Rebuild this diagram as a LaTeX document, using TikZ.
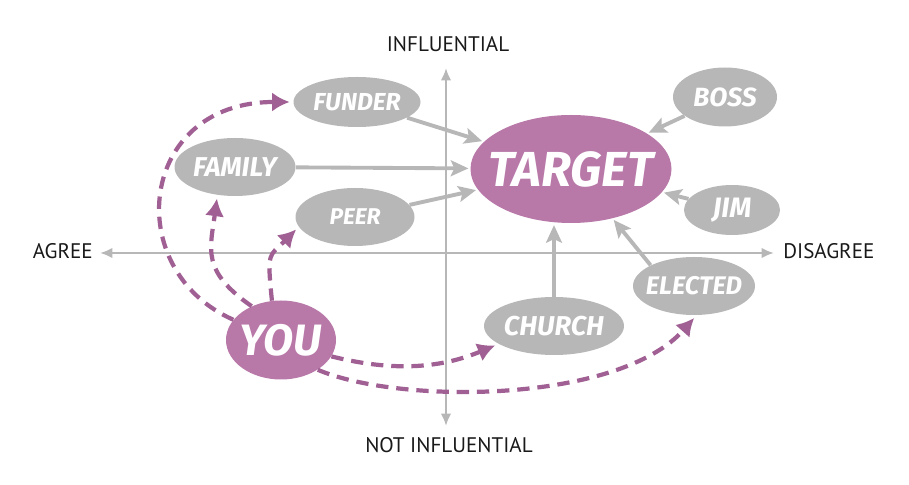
\documentclass[tikz,border=0pt]{standalone}
\usepackage{fontspec}
\setmainfont{PT Sans}
\newfontfamily\handfont{Fira Sans}
\usetikzlibrary{shapes.geometric,arrows.meta}
\definecolor{plum}{RGB}{184,120,168}
\definecolor{plumline}{RGB}{160,96,148}
\definecolor{ashgray}{RGB}{183,183,183}
\newcommand{\blobtext}[2]{\makebox[0pt]{\fontsize{#1}{#1}\selectfont\handfont\bfseries\itshape #2}}

\begin{document}
\begin{tikzpicture}[
	blob/.style={ellipse, fill=ashgray, text=white, inner sep=0pt},
	hot/.style={ellipse, fill=plum, text=white, inner sep=0pt},
	axislabel/.style={inner sep=0pt, font=\fontsize{12}{14}\selectfont, text=black!90},
	pull/.style={-{Stealth[length=10pt,width=9pt,inset=2pt]}, line width=2.2pt, draw=ashgray, shorten >=1pt},
	reach/.style={-{Latex[length=10pt,width=11pt]}, line width=2.4pt, draw=plumline, dash pattern=on 7pt off 4.5pt, shorten >=2pt},
	axis/.style={{Latex[length=7pt,width=6pt]}-{Latex[length=7pt,width=6pt]}, line width=1.3pt, draw=ashgray},
	]
	\useasboundingbox (0,0) rectangle (18.18,9.7);

	% axes
	\coordinate (top) at (8.92,8.34);
	\coordinate (bottom) at (8.92,1.18);
	\coordinate (left) at (2.0,4.64);
	\coordinate (right) at (15.48,4.64);
	\draw[axis] (top) -- (bottom);
	\draw[axis] (left) -- (right);

	\node (infl)[axislabel] at (8.96,8.82) {INFLUENTIAL};
	\node (notinfl)[axislabel] at (8.98,0.8) {NOT INFLUENTIAL};
	\node (agree)[axislabel, anchor=east] at (1.86,4.67) {AGREE};
	\node (disagree)[axislabel, anchor=west] at (15.66,4.67) {DISAGREE};

	% people
	\node (target)[hot, minimum width=4.02cm, minimum height=2.16cm] at (11.42,6.32) {\blobtext{28}{TARGET}};
	\node (you)[hot, minimum width=2.2cm, minimum height=1.58cm] at (5.62,2.9) {\blobtext{25}{YOU}};

	\node (funder)[blob, minimum width=2.54cm, minimum height=1.0cm] at (7.14,7.66) {\blobtext{14}{FUNDER}};
	\node (family)[blob, minimum width=2.42cm, minimum height=1.16cm] at (4.7,6.36) {\blobtext{15.5}{FAMILY}};
	\node (peer)[blob, minimum width=2.38cm, minimum height=1.16cm] at (7.1,5.36) {\blobtext{13}{PEER}};
	\node (boss)[blob, minimum width=2.08cm, minimum height=1.18cm] at (14.5,7.76) {\blobtext{15}{BOSS}};
	\node (jim)[blob, minimum width=1.92cm, minimum height=1.0cm] at (14.64,5.5) {\blobtext{16}{JIM}};
	\node (church)[blob, minimum width=2.8cm, minimum height=1.16cm] at (11.08,3.18) {\blobtext{15.5}{CHURCH}};
	\node (elected)[blob, minimum width=2.44cm, minimum height=1.16cm] at (13.88,3.98) {\blobtext{14.5}{ELECTED}};

	\draw [pull] (funder) to (target);
	\draw [pull] (family) to (target);
	\draw [pull] (peer) to (target);
	\draw [pull] (boss) to (target);
	\draw [pull] (jim) to (target);
	\draw [pull] (church) to (church |- target.south);
	\draw [pull] (elected.north west) to (target.-50);

	\draw [reach] (you.157) .. controls +(-2.26,1.0) and +(-3.1,0) .. (funder.west);
	\draw [reach] (you.131) .. controls +(-1.0,0.7) and +(-0.15,-1.1) .. (family.-122);
	\draw [reach] (you.103) .. controls +(-0.1,1.0) and +(-0.6,-0.6) .. (peer.190);
	\draw [reach] (you.-18) .. controls +(1.2,-0.3) and +(-1.2,-0.5) .. (church.198);
	\draw [reach] (you.-39) .. controls +(1.64,-0.7) and +(-1.56,-1.76) .. (elected.-85);

\end{tikzpicture}
\end{document}
